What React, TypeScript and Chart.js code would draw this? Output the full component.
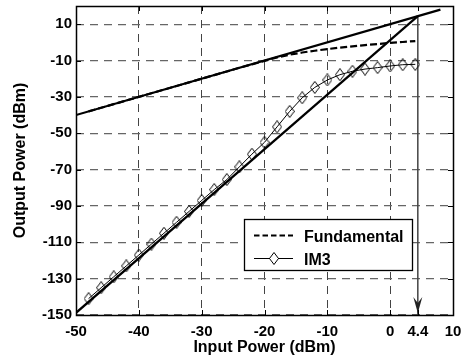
import React, { useEffect, useRef } from "react";
import { Chart, registerables } from "chart.js";

Chart.register(...registerables);

// ---- data ----
const inputPower = [-48, -46, -44, -42, -40, -38, -36, -34, -32, -30, -28, -26, -24, -22, -20, -18, -16, -14, -12, -10, -8, -6, -4, -2, 0, 2, 4];
const fundamentalOut = [-38, -36, -34, -32, -30, -28, -26, -24, -22, -20, -18, -16, -14, -12.1, -10.2, -8.3, -6.8, -5.6, -4.6, -3.7, -2.9, -2.2, -1.5, -0.9, -0.3, 0.2, 0.7];
const im3Out = [-141, -135, -129, -123, -117, -111, -105, -99, -93, -87, -81, -75.5, -68.5, -61.5, -55, -46.5, -38, -30.5, -24.8, -20.7, -17.8, -15.9, -14.7, -13.9, -13.0, -12.3, -12.1];

const fundFitX = [-50, 8];
const fundFitY = [-40, 18];
const im3FitX = [-50, 4.4];
const im3FitY = [-148.8, 14.4];

const iip3 = 4.4;
const oip3 = 14.4;

const xTicks = [-50, -40, -30, -20, -10, 0, 4.4, 10];
const yTicks = [-150, -130, -110, -90, -70, -50, -30, -10, 10];
const xRange = [-50, 10];
const yRange = [-150, 20];

const legendLabels = ["Fundamental", "IM3"];
const xTitle = "Input Power (dBm)";
const yTitle = "Output Power (dBm)";

const FONT = "'Liberation Sans', Arial, Helvetica, sans-serif";

function makeDiamond(): HTMLCanvasElement {
  const c = document.createElement("canvas");
  const w = 10, h = 13;
  c.width = w;
  c.height = h;
  const g = c.getContext("2d")!;
  g.strokeStyle = "#000";
  g.lineWidth = 1;
  g.beginPath();
  g.moveTo(w / 2, 0.5);
  g.lineTo(w - 0.5, h / 2);
  g.lineTo(w / 2, h - 0.5);
  g.lineTo(0.5, h / 2);
  g.closePath();
  g.stroke();
  return c;
}

export default function App() {
  const ref = useRef<HTMLCanvasElement | null>(null);

  useEffect(() => {
    if (!ref.current) return;
    const diamond = makeDiamond();

    const overlay = {
      id: "overlay",
      afterDatasetsDraw(chart: any) {
        const { ctx, chartArea: a, scales } = chart;
        const xs = scales.x;
        const ys = scales.y;
        ctx.save();

        // arrow head at IIP3
        const ax = xs.getPixelForValue(iip3);
        const ay = ys.getPixelForValue(yRange[0]) - 2;
        ctx.fillStyle = "#222";
        ctx.beginPath();
        ctx.moveTo(ax, ay);
        ctx.lineTo(ax - 4.5, ay - 16);
        ctx.lineTo(ax, ay - 10);
        ctx.lineTo(ax + 4.5, ay - 16);
        ctx.closePath();
        ctx.fill();

        // inner ticks (MATLAB style)
        ctx.strokeStyle = "#000";
        ctx.lineWidth = 1;
        ctx.beginPath();
        xTicks.forEach((v) => {
          if (v === xRange[0] || v === xRange[1]) return;
          const px = Math.round(xs.getPixelForValue(v)) + 0.5;
          ctx.moveTo(px, a.bottom);
          ctx.lineTo(px, a.bottom - 5);
          ctx.moveTo(px, a.top);
          ctx.lineTo(px, a.top + 5);
        });
        yTicks.forEach((v) => {
          if (v === yRange[0]) return;
          const py = Math.round(ys.getPixelForValue(v)) + 0.5;
          ctx.moveTo(a.left, py);
          ctx.lineTo(a.left + 5, py);
          ctx.moveTo(a.right, py);
          ctx.lineTo(a.right - 5, py);
        });
        ctx.stroke();

        // frame
        ctx.lineWidth = 1.5;
        ctx.strokeRect(Math.round(a.left) + 0.5, Math.round(a.top) + 0.5, Math.round(a.right - a.left), Math.round(a.bottom - a.top));

        // legend
        const lx = 244.5, ly = 219.5, lw = 168, lh = 51;
        ctx.fillStyle = "#fff";
        ctx.fillRect(lx, ly, lw, lh);
        ctx.lineWidth = 1.3;
        ctx.strokeStyle = "#000";
        ctx.strokeRect(lx, ly, lw, lh);

        ctx.lineWidth = 2;
        ctx.setLineDash([5.5, 3]);
        ctx.beginPath();
        ctx.moveTo(254, 235.5);
        ctx.lineTo(293, 235.5);
        ctx.stroke();
        ctx.setLineDash([]);

        ctx.lineWidth = 1;
        ctx.beginPath();
        ctx.moveTo(254, 258.5);
        ctx.lineTo(293, 258.5);
        ctx.stroke();
        ctx.fillStyle = "#fff";
        ctx.fillRect(274 - 4, 258.5 - 5, 8, 10);
        ctx.drawImage(diamond, 274 - diamond.width / 2, 258.5 - diamond.height / 2);

        ctx.fillStyle = "#000";
        ctx.font = `bold 16px ${FONT}`;
        ctx.textBaseline = "alphabetic";
        ctx.textAlign = "left";
        ctx.fillText(legendLabels[0], 304, 241.5);
        ctx.fillText(legendLabels[1], 304, 264.5);

        ctx.restore();
      },
    };

    const pts = (xa: number[], ya: number[]) => xa.map((x, i) => ({ x, y: ya[i] }));

    const chart = new Chart(ref.current, {
      type: "scatter",
      data: {
        datasets: [
          {
            label: legendLabels[1],
            data: pts(inputPower, im3Out),
            showLine: true,
            borderColor: "#000",
            borderWidth: 1,
            pointStyle: diamond as any,
            pointRadius: 5,
            backgroundColor: "transparent",
          },
          {
            label: legendLabels[0],
            data: pts(inputPower, fundamentalOut),
            showLine: true,
            borderColor: "#000",
            borderWidth: 2.2,
            borderDash: [7, 3],
            pointRadius: 0,
          },
          {
            label: "fund fit",
            data: pts(fundFitX, fundFitY),
            showLine: true,
            borderColor: "#000",
            borderWidth: 2.2,
            pointRadius: 0,
          },
          {
            label: "im3 fit",
            data: pts(im3FitX, im3FitY),
            showLine: true,
            borderColor: "#000",
            borderWidth: 2.2,
            pointRadius: 0,
          },
          {
            label: "iip3",
            data: [
              { x: iip3, y: oip3 },
              { x: iip3, y: yRange[0] },
            ],
            showLine: true,
            borderColor: "#444",
            borderWidth: 1.5,
            pointRadius: 0,
          },
        ],
      },
      options: {
        responsive: false,
        animation: false,
        layout: { padding: { left: 0, right: 11, top: 5, bottom: 0 } },
        plugins: { legend: { display: false }, tooltip: { enabled: false } },
        scales: {
          x: {
            type: "linear",
            min: xRange[0],
            max: xRange[1],
            afterBuildTicks: (s: any) => {
              s.ticks = xTicks.map((value) => ({ value }));
            },
            afterFit: (s: any) => {
              s.height = 47;
              s.paddingLeft = 0;
              s.paddingRight = 0;
            },
            grid: {
              drawTicks: false,
              color: (c: any) => (c.tick && c.tick.value === iip3 ? "rgba(0,0,0,0)" : "#444"),
              lineWidth: 1,
            },
            border: { display: false, dash: [8, 6] },
            ticks: {
              autoSkip: false,
              maxRotation: 0,
              padding: 8,
              color: "#000",
              font: { family: FONT, size: 15, weight: "bold" },
              callback: (v: any) => String(v),
            },
            title: {
              display: true,
              text: xTitle,
              color: "#000",
              font: { family: FONT, size: 16, weight: "bold" },
              padding: { top: 0, bottom: 5 },
            },
          },
          y: {
            type: "linear",
            min: yRange[0],
            max: yRange[1],
            afterBuildTicks: (s: any) => {
              s.ticks = yTicks.map((value) => ({ value }));
            },
            afterFit: (s: any) => {
              s.width = 76;
              s.paddingTop = 0;
              s.paddingBottom = 0;
            },
            grid: { drawTicks: false, color: "#666", lineWidth: 1.2 },
            border: { display: false, dash: [8, 6] },
            ticks: {
              autoSkip: false,
              padding: 4,
              color: "#000",
              font: { family: FONT, size: 15, weight: "bold" },
              callback: (v: any) => String(v),
            },
            title: {
              display: true,
              text: yTitle,
              color: "#000",
              font: { family: FONT, size: 16, weight: "bold" },
              padding: { top: 11, bottom: 0 },
            },
          },
        },
      },
      plugins: [overlay],
    });

    return () => chart.destroy();
  }, []);

  return (
    <div style={{ position: "absolute", left: 0, top: 0, width: 464, height: 362, background: "#fff" }}>
      <canvas ref={ref} width={464} height={362} />
    </div>
  );
}
